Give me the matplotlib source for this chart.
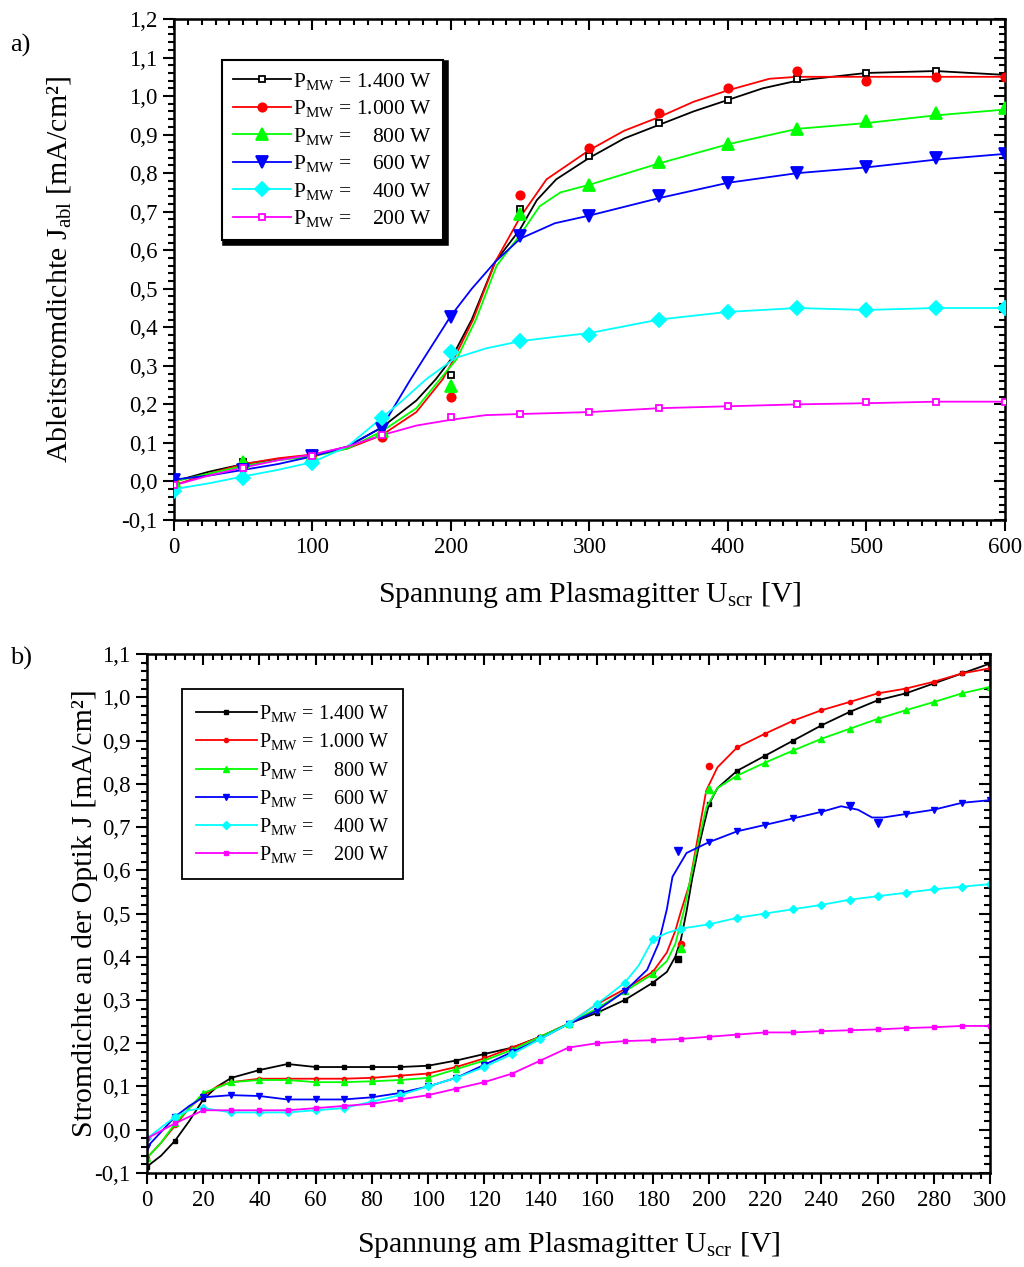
import matplotlib
matplotlib.use('Agg')
import matplotlib.pyplot as plt
import numpy as np
from matplotlib.ticker import MultipleLocator, FuncFormatter, AutoMinorLocator
from matplotlib.lines import Line2D

plt.rcParams['font.family'] = ['Liberation Serif', 'DejaVu Serif']
plt.rcParams['mathtext.fontset'] = 'custom'
plt.rcParams['mathtext.rm'] = 'Liberation Serif'
plt.rcParams['mathtext.it'] = 'Liberation Serif:italic'

# ---------------- data: a) Ableitstromdichte ----------------
labels = [r'P$_{\rm MW}$ = 1.400 W', r'P$_{\rm MW}$ = 1.000 W', r'P$_{\rm MW}$ =    800 W',
          r'P$_{\rm MW}$ =    600 W', r'P$_{\rm MW}$ =    400 W', r'P$_{\rm MW}$ =    200 W']
colors = ['#000000', '#ff0000', '#00ff00', '#0000ff', '#00ffff', '#ff00ff']

a_v_1400 = [0, 25, 50, 75, 100, 125, 150, 175, 189, 200, 215, 232, 250, 262, 276, 300, 325, 350, 375, 400, 425, 450, 500, 550, 600]
a_j_1400 = [0.0, 0.025, 0.045, 0.058, 0.068, 0.09, 0.14, 0.21, 0.265, 0.317, 0.42, 0.57, 0.655, 0.73, 0.784, 0.84, 0.89, 0.925, 0.96, 0.99, 1.02, 1.04, 1.06, 1.065, 1.055]
a_v_1000 = [0, 25, 50, 75, 100, 125, 150, 175, 194, 202, 216, 232, 250, 269, 300, 325, 350, 375, 400, 430, 450, 500, 550, 600]
a_j_1000 = [-0.01, 0.02, 0.045, 0.06, 0.07, 0.085, 0.12, 0.18, 0.265, 0.317, 0.42, 0.57, 0.686, 0.784, 0.86, 0.91, 0.945, 0.985, 1.015, 1.045, 1.05, 1.05, 1.05, 1.05]
a_v_800 = [0, 25, 50, 75, 100, 125, 150, 175, 192, 204, 218, 233, 250, 264, 279, 300, 350, 400, 450, 500, 550, 600]
a_j_800 = [0.0, 0.02, 0.04, 0.055, 0.065, 0.085, 0.13, 0.19, 0.265, 0.317, 0.42, 0.56, 0.64, 0.714, 0.75, 0.77, 0.825, 0.875, 0.915, 0.93, 0.95, 0.965]
a_v_600 = [0, 25, 50, 75, 100, 125, 150, 160, 170, 180, 200, 215, 232, 250, 275, 300, 350, 400, 450, 500, 550, 600]
a_j_600 = [0.005, 0.015, 0.03, 0.045, 0.065, 0.09, 0.14, 0.2, 0.26, 0.317, 0.43, 0.5, 0.57, 0.63, 0.67, 0.69, 0.735, 0.775, 0.8, 0.815, 0.835, 0.85]
a_v_400 = [0, 25, 50, 75, 100, 125, 150, 165, 182, 203, 225, 250, 275, 300, 350, 400, 450, 500, 550, 600]
a_j_400 = [-0.02, -0.005, 0.013, 0.03, 0.05, 0.09, 0.165, 0.21, 0.265, 0.32, 0.345, 0.364, 0.375, 0.385, 0.42, 0.44, 0.45, 0.445, 0.45, 0.45]
a_v_200 = [0, 25, 50, 75, 100, 125, 150, 175, 200, 225, 250, 300, 350, 400, 450, 500, 550, 600]
a_j_200 = [-0.01, 0.015, 0.036, 0.055, 0.07, 0.09, 0.12, 0.145, 0.16, 0.172, 0.175, 0.18, 0.19, 0.195, 0.2, 0.203, 0.207, 0.207]

# measured points (every 50 V)
a_v_mark = [0, 50, 100, 150, 200, 250, 300, 350, 400, 450, 500, 550, 600]
a_m_1400 = [0.0, 0.05, 0.065, 0.13, 0.275, 0.706, 0.845, 0.93, 0.99, 1.045, 1.06, 1.065, 1.05]
a_m_1000 = [-0.005, 0.045, 0.07, 0.115, 0.22, 0.743, 0.865, 0.955, 1.02, 1.065, 1.04, 1.05, 1.05]
a_m_800 = [0.0, 0.05, 0.065, 0.13, 0.247, 0.693, 0.77, 0.83, 0.875, 0.915, 0.935, 0.955, 0.97]
a_m_600 = [0.005, 0.03, 0.065, 0.137, 0.426, 0.636, 0.69, 0.74, 0.775, 0.8, 0.815, 0.84, 0.85]
a_m_400 = [-0.025, 0.01, 0.048, 0.165, 0.335, 0.364, 0.38, 0.42, 0.44, 0.45, 0.445, 0.45, 0.45]
a_m_200 = [-0.008, 0.036, 0.065, 0.12, 0.167, 0.175, 0.18, 0.19, 0.195, 0.2, 0.205, 0.207, 0.207]

# ---------------- data: b) Stromdichte an der Optik ----------------
b_v_1400 = [0, 5, 10, 15, 20, 25, 30, 40, 50, 60, 70, 80, 90, 100, 110, 120, 130, 140, 150, 160, 170, 180, 185, 188, 190, 192, 194, 196, 198, 200, 203, 210, 220, 230, 240, 250, 260, 270, 280, 290, 300]
b_j_1400 = [-0.085, -0.06, -0.025, 0.02, 0.07, 0.1, 0.12, 0.138, 0.152, 0.145, 0.145, 0.145, 0.145, 0.148, 0.16, 0.175, 0.19, 0.215, 0.245, 0.27, 0.3, 0.34, 0.365, 0.4, 0.44, 0.505, 0.58, 0.644, 0.7, 0.753, 0.79, 0.83, 0.865, 0.9, 0.935, 0.966, 0.993, 1.009, 1.032, 1.055, 1.078]
b_v_1000 = [0, 5, 10, 15, 20, 25, 30, 40, 50, 60, 70, 80, 90, 100, 110, 120, 130, 140, 150, 160, 170, 180, 185, 188, 190, 193, 196, 199, 203, 210, 220, 230, 240, 250, 260, 270, 280, 290, 300]
b_j_1000 = [-0.065, -0.03, 0.01, 0.05, 0.08, 0.1, 0.11, 0.118, 0.118, 0.118, 0.118, 0.12, 0.125, 0.13, 0.145, 0.165, 0.19, 0.215, 0.245, 0.29, 0.325, 0.365, 0.41, 0.46, 0.505, 0.567, 0.675, 0.784, 0.838, 0.884, 0.916, 0.946, 0.97, 0.989, 1.009, 1.02, 1.036, 1.055, 1.067]
b_v_800 = [0, 5, 10, 15, 20, 30, 40, 50, 60, 70, 80, 90, 100, 110, 120, 130, 140, 150, 160, 170, 180, 185, 188, 191, 195, 199, 203, 210, 220, 230, 240, 250, 260, 270, 280, 290, 300]
b_j_800 = [-0.065, -0.03, 0.015, 0.05, 0.085, 0.11, 0.115, 0.115, 0.11, 0.11, 0.112, 0.115, 0.12, 0.14, 0.16, 0.185, 0.215, 0.245, 0.28, 0.32, 0.36, 0.39, 0.43, 0.505, 0.63, 0.745, 0.79, 0.819, 0.849, 0.877, 0.904, 0.927, 0.95, 0.97, 0.989, 1.009, 1.024]
b_v_600 = [0, 5, 10, 15, 20, 30, 40, 50, 60, 70, 80, 90, 100, 110, 120, 130, 140, 150, 160, 170, 178, 182, 185, 187, 192, 200, 210, 220, 230, 240, 247, 253, 258, 262, 270, 280, 290, 300]
b_j_600 = [-0.04, -0.005, 0.03, 0.055, 0.075, 0.08, 0.078, 0.07, 0.07, 0.07, 0.075, 0.085, 0.1, 0.12, 0.15, 0.18, 0.21, 0.245, 0.275, 0.32, 0.37, 0.43, 0.51, 0.585, 0.64, 0.665, 0.69, 0.705, 0.72, 0.735, 0.748, 0.74, 0.722, 0.722, 0.73, 0.74, 0.756, 0.762]
b_v_400 = [0, 5, 10, 15, 20, 30, 40, 50, 60, 70, 80, 90, 100, 110, 120, 130, 140, 150, 160, 170, 175, 180, 185, 190, 200, 210, 220, 230, 240, 250, 260, 270, 280, 290, 300]
b_j_400 = [-0.02, 0.005, 0.03, 0.045, 0.05, 0.04, 0.04, 0.04, 0.045, 0.05, 0.065, 0.08, 0.1, 0.12, 0.145, 0.175, 0.21, 0.245, 0.29, 0.34, 0.38, 0.44, 0.455, 0.465, 0.475, 0.49, 0.5, 0.51, 0.52, 0.532, 0.54, 0.548, 0.556, 0.562, 0.568]
b_v_200 = [0, 10, 20, 30, 40, 50, 60, 70, 80, 90, 100, 110, 120, 130, 140, 150, 160, 170, 180, 190, 200, 210, 220, 230, 240, 250, 260, 270, 280, 290, 300]
b_j_200 = [-0.02, 0.015, 0.045, 0.045, 0.045, 0.045, 0.05, 0.055, 0.06, 0.07, 0.08, 0.095, 0.11, 0.13, 0.16, 0.19, 0.2, 0.205, 0.207, 0.21, 0.215, 0.22, 0.225, 0.225, 0.228, 0.23, 0.232, 0.235, 0.237, 0.24, 0.24]

# single measured points lying off the curves
b_off_1400 = ([189], [0.395])
b_off_1000 = ([190, 200], [0.43, 0.842])
b_off_800 = ([190, 200], [0.42, 0.788])
b_off_600 = ([189, 250, 260], [0.645, 0.748, 0.71])
b_off_400 = ([], [])
b_off_200 = ([], [])


def comma_fmt(v, pos):
    if abs(v) < 1e-9:
        v = 0.0
    return ('%.1f' % v).replace('.', ',')


def setup_axes(ax, xlim, ylim, xmaj, xminor_n, ymaj, yminor_n):
    ax.set_xlim(*xlim)
    ax.set_ylim(*ylim)
    ax.xaxis.set_major_locator(MultipleLocator(xmaj))
    ax.xaxis.set_minor_locator(AutoMinorLocator(xminor_n))
    ax.yaxis.set_major_locator(MultipleLocator(ymaj))
    ax.yaxis.set_minor_locator(AutoMinorLocator(yminor_n))
    ax.yaxis.set_major_formatter(FuncFormatter(comma_fmt))
    ax.tick_params(which='both', direction='out', width=1.5, labelsize=16.5, pad=4)
    ax.tick_params(which='major', length=8)
    ax.tick_params(which='minor', length=4)
    for s in ax.spines.values():
        s.set_linewidth(1.8)
    # mirrored ticks pointing inwards (top / right)
    top = ax.secondary_xaxis('top')
    top.xaxis.set_major_locator(MultipleLocator(xmaj))
    top.xaxis.set_minor_locator(AutoMinorLocator(xminor_n))
    top.tick_params(which='both', direction='in', width=1.5, labeltop=False)
    top.tick_params(which='major', length=8)
    top.tick_params(which='minor', length=4)
    right = ax.secondary_yaxis('right')
    right.yaxis.set_major_locator(MultipleLocator(ymaj))
    right.yaxis.set_minor_locator(AutoMinorLocator(yminor_n))
    right.tick_params(which='both', direction='in', width=1.5, labelright=False)
    right.tick_params(which='major', length=8)
    right.tick_params(which='minor', length=4)


fig = plt.figure(figsize=(10.24, 12.67), dpi=100)

# ---------------- a) ----------------
ax1 = fig.add_axes([0.1699, 0.5896, 0.8115, 0.3954])
a_lines = [(a_v_1400, a_j_1400), (a_v_1000, a_j_1000), (a_v_800, a_j_800),
           (a_v_600, a_j_600), (a_v_400, a_j_400), (a_v_200, a_j_200)]
a_marks = [a_m_1400, a_m_1000, a_m_800, a_m_600, a_m_400, a_m_200]
a_markers = ['s', 'o', '^', 'v', 'D', 's']
a_msize = [5, 6, 9, 9, 7, 5]
a_face = ['white', None, None, None, None, 'white']
handles = []
for i in range(6):
    v, j = a_lines[i]
    ax1.plot(v, j, '-', color=colors[i], lw=1.3, zorder=2)
    fc = a_face[i] if a_face[i] else colors[i]
    ax1.plot(a_v_mark, a_marks[i], linestyle='none', marker=a_markers[i], ms=a_msize[i],
             mfc=fc, mec=colors[i], mew=1.3, zorder=3)
    handles.append(Line2D([], [], color=colors[i], lw=1.3, marker=a_markers[i], ms=a_msize[i],
                          mfc=fc, mec=colors[i], mew=1.3))
setup_axes(ax1, (0, 600), (-0.1, 1.2), 100, 10, 0.1, 5)
ax1.set_xlabel(r'Spannung am Plasmagitter U$_{\rm scr}$ [V]', fontsize=21.5, labelpad=16)
ax1.set_ylabel(r'Ableitstromdichte J$_{\rm abl}$ [mA/cm²]', fontsize=21.5)
ax1.yaxis.set_label_coords(-0.121, 0.5)
leg1 = ax1.legend(handles, labels, loc='upper left', bbox_to_anchor=(0.058, 0.918),
                  borderaxespad=0, fontsize=15.5, handlelength=2.7, handletextpad=0.1,
                  labelspacing=0.3, borderpad=0.5, fancybox=False, framealpha=1,
                  shadow={'color': 'black', 'alpha': 1, 'linewidth': 4})
leg1.get_frame().set_edgecolor('black')
leg1.get_frame().set_linewidth(1.5)

# ---------------- b) ----------------
ax2 = fig.add_axes([0.1436, 0.0742, 0.8232, 0.4096])
b_lines = [(b_v_1400, b_j_1400), (b_v_1000, b_j_1000), (b_v_800, b_j_800),
           (b_v_600, b_j_600), (b_v_400, b_j_400), (b_v_200, b_j_200)]
b_offs = [b_off_1400, b_off_1000, b_off_800, b_off_600, b_off_400, b_off_200]
b_markers = ['s', 'o', '^', 'v', 'D', 's']
b_msize = [2.5, 3, 4.5, 4.5, 4, 2.5]
handles2 = []
for i in range(6):
    v, j = b_lines[i]
    every = [k for k, x in enumerate(v) if x % 10 == 0 and (v[k], i) not in [(190, 0), (190, 1), (190, 2), (200, 1), (200, 2)]]
    ax2.plot(v, j, '-', color=colors[i], lw=1.3, marker=b_markers[i], ms=b_msize[i],
             markevery=every, mfc=colors[i], mec=colors[i], zorder=2)
    ax2.plot(b_offs[i][0], b_offs[i][1], linestyle='none', marker=b_markers[i],
             ms=b_msize[i] + 1.5, color=colors[i], zorder=3)
    handles2.append(Line2D([], [], color=colors[i], lw=1.3, marker=b_markers[i], ms=b_msize[i]))
setup_axes(ax2, (0, 300), (-0.1, 1.1), 20, 6, 0.1, 5)
ax2.set_xlabel(r'Spannung am Plasmagitter U$_{\rm scr}$ [V]', fontsize=21.5, labelpad=14)
ax2.set_ylabel(r'Stromdichte an der Optik J [mA/cm²]', fontsize=21.5)
ax2.yaxis.set_label_coords(-0.058, 0.5)
leg2 = ax2.legend(handles2, labels, loc='upper left', bbox_to_anchor=(0.0415, 0.9326),
                  borderaxespad=0, fontsize=14.5, handlelength=3.0, handletextpad=0.1,
                  labelspacing=0.36, borderpad=0.7, fancybox=False, framealpha=1)
leg2.get_frame().set_edgecolor('black')
leg2.get_frame().set_linewidth(1.3)

fig.text(0.010, 1 - 45 / 1267, 'a)', fontsize=19, va='center', ha='left')
fig.text(0.010, 1 - 658 / 1267, 'b)', fontsize=19, va='center', ha='left')

fig.savefig('out.png', dpi=100)
